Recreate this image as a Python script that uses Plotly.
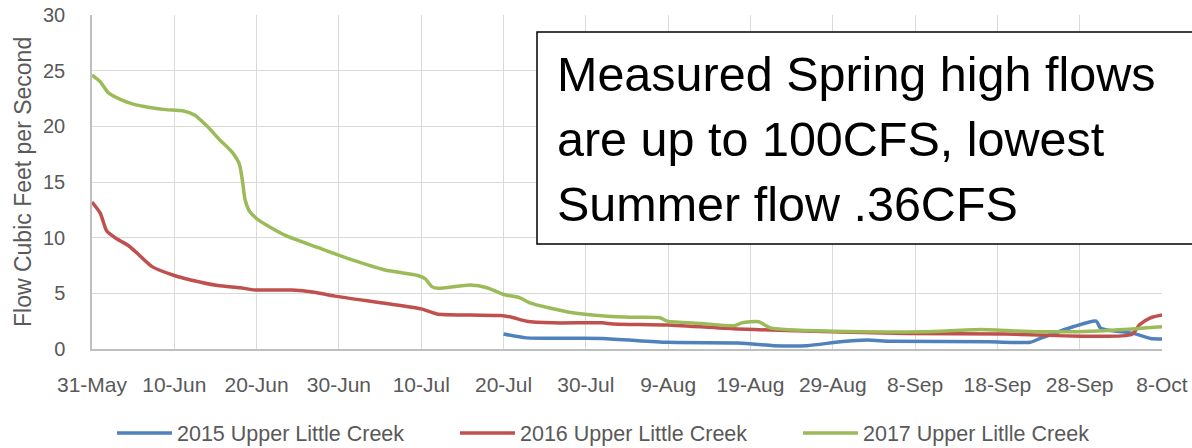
import pandas as pd
import plotly.graph_objects as go

BASE_DATE = "2017-05-31"

# 2015 Upper Little Creek (day offset from 31-May, flow cfs)
days_2015 = [50, 52.8, 62, 69.9, 78.4, 80.3, 82.8, 86.9, 90.9, 94.2, 97, 109, 114, 115.2,
             119.2, 122, 122.5, 123.3, 126.5, 128.6, 130]
flow_2015 = [1.35, 1.0, 0.95, 0.6, 0.55, 0.45, 0.3, 0.3, 0.65, 0.8, 0.7, 0.65, 0.6, 0.95,
             2.0, 2.5, 1.9, 1.7, 1.4, 0.95, 0.9]

# 2016 Upper Little Creek
days_2016 = [0, 1, 1.8, 3, 4.4, 5.5, 7.3, 10, 12, 15.3, 18, 19.8, 24.3, 27, 29.5, 35.6, 40,
             41.9, 46, 49.6, 51, 52.8, 56, 62, 63.3, 69.9, 78.4, 82.4, 99, 111, 126.3, 127.3,
             128.6, 130]
flow_2016 = [13.2, 12.2, 10.6, 9.9, 9.3, 8.6, 7.4, 6.6, 6.2, 5.7, 5.5, 5.3, 5.3, 5.1, 4.75,
             4.1, 3.6, 3.15, 3.05, 3.0, 2.85, 2.5, 2.35, 2.35, 2.25, 2.15, 1.8, 1.7, 1.4, 1.35,
             1.3, 2.2, 2.8, 3.05]

# 2017 Upper Litlle Creek
days_2017 = [0, 1, 2, 3.5, 5, 7, 9, 11, 12.5, 14, 15.5, 17, 17.9, 18.3, 18.6, 19.2, 20.2,
             23.5, 27.5, 31.6, 35.6, 39.6, 40.5, 41.3, 42, 46, 48, 50, 52, 53.2, 58, 62.6,
             66, 69, 69.9, 74, 78, 79, 81, 82.4, 90, 101, 108, 115, 123, 130]
flow_2017 = [24.6, 24.0, 23.0, 22.4, 22.0, 21.7, 21.5, 21.4, 21.0, 20.0, 18.8, 17.7, 16.6,
             15.0, 13.4, 12.3, 11.6, 10.2, 9.1, 8.0, 7.1, 6.6, 6.3, 5.6, 5.45, 5.75, 5.5,
             4.9, 4.6, 4.15, 3.3, 2.95, 2.85, 2.8, 2.5, 2.3, 2.1, 2.35, 2.45, 1.9, 1.6, 1.55,
             1.75, 1.55, 1.65, 2.0]

series_names = ["2015 Upper Little Creek", "2016 Upper Little Creek", "2017 Upper Litlle Creek"]
series_colors = ["#4F81BD", "#C0504D", "#9BBB59"]

tick_days = [0, 10, 20, 30, 40, 50, 60, 70, 80, 90, 100, 110, 120, 130]
tick_labels = ["31-May", "10-Jun", "20-Jun", "30-Jun", "10-Jul", "20-Jul", "30-Jul", "9-Aug",
               "19-Aug", "29-Aug", "8-Sep", "18-Sep", "28-Sep", "8-Oct"]

note_lines = ["Measured Spring high flows", "are up to 100CFS, lowest", "Summer flow .36CFS"]
y_title = "Flow Cubic Feet per Second"

base = pd.Timestamp(BASE_DATE)


def to_dates(days):
    return [base + pd.Timedelta(days=d) for d in days]


FONT = "Liberation Sans, Arial, sans-serif"
GRAY = "#595959"

fig = go.Figure()
for days, flows, name, color in zip([days_2015, days_2016, days_2017],
                                    [flow_2015, flow_2016, flow_2017],
                                    series_names, series_colors):
    fig.add_trace(go.Scatter(x=to_dates(days), y=flows, mode="lines", name=name,
                             line=dict(color=color, width=3.5, shape="spline", smoothing=0.6)))

fig.update_layout(
    width=1192, height=448,
    margin=dict(l=92, r=30, t=15, b=99, autoexpand=False),
    paper_bgcolor="white", plot_bgcolor="white",
    font=dict(family=FONT, color=GRAY),
    showlegend=True,
    legend=dict(orientation="h", xref="container", yref="container",
                x=112 / 1192, xanchor="left", y=1 - 433 / 448, yanchor="middle",
                font=dict(size=21.5, color=GRAY), itemwidth=55,
                entrywidth=273, entrywidthmode="pixels", traceorder="normal"),
    xaxis=dict(range=[base, base + pd.Timedelta(days=130)],
               tickvals=to_dates(tick_days), ticktext=tick_labels,
               showgrid=True, gridcolor="#D9D9D9", gridwidth=1,
               showline=True, linecolor="#BFBFBF", linewidth=1.5,
               ticks="outside", ticklen=16, tickcolor="rgba(0,0,0,0)",
               tickfont=dict(size=21, color=GRAY), zeroline=False, automargin=False),
    yaxis=dict(range=[0, 30], dtick=5, tick0=0,
               showgrid=True, gridcolor="#D9D9D9", gridwidth=1,
               showline=True, linecolor="#BFBFBF", linewidth=1.5,
               ticks="outside", ticklen=21, tickcolor="rgba(0,0,0,0)",
               tickfont=dict(size=20, color=GRAY), zeroline=False, automargin=False),
)

# y-axis title
fig.add_annotation(text=y_title, xref="paper", yref="paper", x=(23 - 92) / 1070, y=0.5,
                   xanchor="center", yanchor="middle", textangle=-90, showarrow=False,
                   font=dict(size=23, color=GRAY, family=FONT))

# note box
fig.add_shape(type="rect", xref="paper", yref="paper",
              x0=(537 - 92) / 1070, x1=(1200 - 92) / 1070,
              y0=(349 - 244) / 334, y1=(349 - 32) / 334,
              line=dict(color="black", width=1.5), fillcolor="white", layer="above")
for i, line in enumerate(note_lines):
    py = 74 + 65 * i
    fig.add_annotation(text=line, xref="paper", yref="paper", x=(555 - 92) / 1070,
                       y=(349 - py) / 334, xanchor="left", yanchor="middle",
                       showarrow=False, font=dict(size=48.5, color="black", family=FONT))

fig.write_html("out.html", config={"displayModeBar": False},
               post_script="document.body.style.margin='0';document.body.style.padding='0';")
